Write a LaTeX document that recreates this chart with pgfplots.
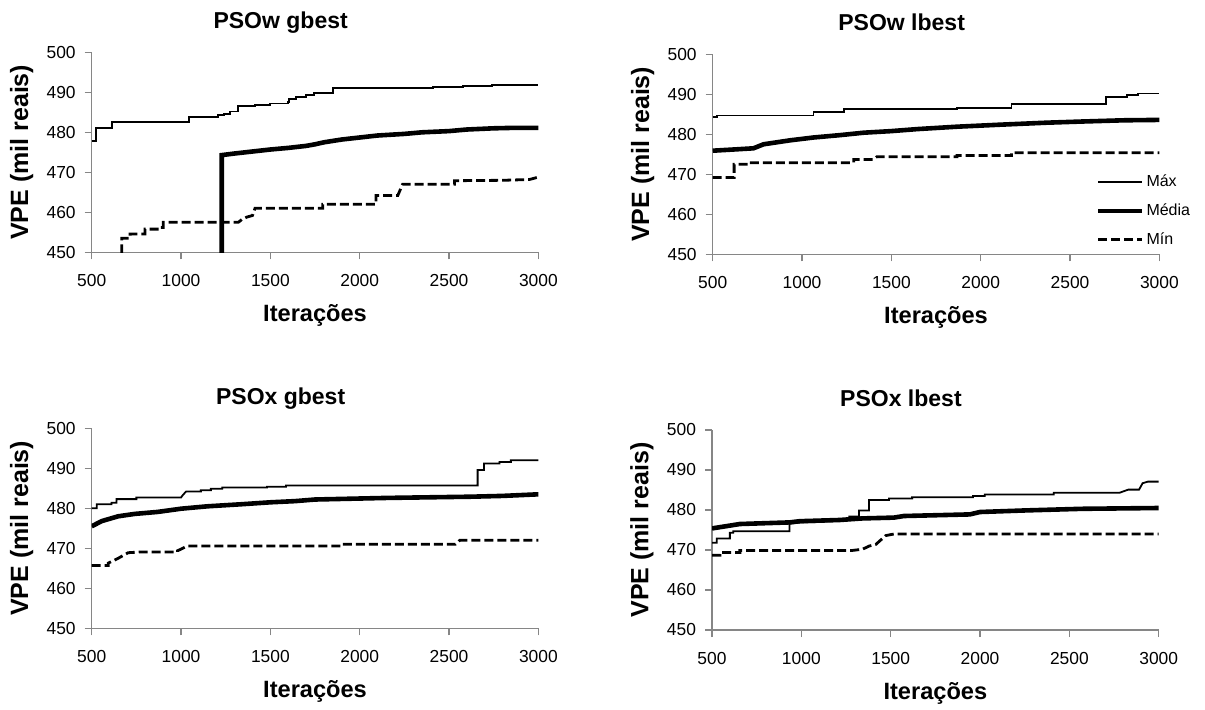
\documentclass[border=0pt]{standalone}
\usepackage{fontspec}
\setmainfont{Liberation Sans}
\usepackage{pgfplots}
\pgfplotsset{compat=1.18}
\definecolor{axisgray}{HTML}{868686}
\pgfplotsset{
  every axis title shift=0pt,
  panel/.style={
    scale only axis, width=223.35pt, height=100pt,
    xmin=500, xmax=3000, ymin=450, ymax=500,
    xtick={500,1000,...,3000}, ytick={450,460,...,500},
    scaled ticks=false,
    axis x line*=bottom, axis y line*=left,
    axis line style={draw=axisgray, line width=0.6pt, -},
    tick style={draw=axisgray, line width=0.6pt},
    tick align=outside, major tick length=3.5pt,
    ticklabel style={font=\fontsize{8.7}{10}\selectfont},
    /pgf/number format/assume math mode=true,
    /pgf/number format/1000 sep={},
    xticklabel style={yshift=-4pt},
    yticklabel style={xshift=-1pt},
    title style={at={(axis description cs:0.423,1.12)}, anchor=base, yshift=0pt, font=\bfseries\fontsize{11.5}{13}\selectfont},
    xlabel style={at={(axis description cs:0.5,-0.315)}, anchor=center, font=\bfseries\fontsize{11.8}{13}\selectfont},
    ylabel style={at={(axis description cs:-0.157,0.5)}, anchor=center, font=\bfseries\fontsize{12.5}{14}\selectfont},
    xlabel={Iterações}, ylabel={VPE (mil reais)},
    clip=true,
  },
  smax/.style={black, line width=0.9pt},
  smed/.style={black, line width=2.3pt},
  smin/.style={black, line width=1.4pt, dash pattern=on 4.5pt off 2pt},
}
\begin{document}
\begin{tikzpicture}
\useasboundingbox (0,0) rectangle (602.5pt,354.5pt);
% ---------------- PSOw gbest
\begin{axis}[panel, at={(45.85pt,228.35pt)}, anchor=south west, title={PSOw gbest}]
\addplot[smax] coordinates {(500,477.9)(522,477.9)(522,481)(612,481)(612,482.5)(1045,482.5)(1045,483.9)(1209,483.9)(1209,484.3)(1240,484.3)(1240,484.6)(1274,484.6)(1274,485.2)(1321,485.2)(1321,486.5)(1414,486.5)(1414,486.9)(1500,486.9)(1500,487.2)(1597,487.2)(1597,487.5)(1606,487.5)(1606,488.3)(1644,488.3)(1644,488.9)(1700,488.9)(1700,489.3)(1746,489.3)(1746,489.9)(1849,489.9)(1849,491)(2409,491)(2409,491.3)(2576,491.3)(2576,491.6)(2740,491.6)(2740,491.8)(3000,491.8)};
\addplot[smed] coordinates {(1228,440)(1228,474.3)(1300,474.7)(1400,475.2)(1500,475.7)(1600,476.1)(1700,476.6)(1750,477.0)(1800,477.5)(1900,478.2)(2000,478.7)(2100,479.2)(2250,479.6)(2350,480.0)(2500,480.3)(2600,480.7)(2750,481.0)(2850,481.1)(3000,481.1)};
\addplot[smin] coordinates {(668,440)(668,453.5)(715,453.5)(715,454.6)(798,454.6)(798,455.8)(882,455.8)(882,456.2)(901,456.2)(901,457.5)(1321,457.5)(1340,458.2)(1368,458.8)(1400,459.2)(1414,461)(1793,461)(1793,462)(2091,462)(2091,464.2)(2213,464.2)(2240,467)(2530,467)(2530,467.9)(2800,468)(2950,468.2)(3000,468.8)};
\end{axis}
% ---------------- PSOw lbest
\begin{axis}[panel, at={(356.35pt,227.35pt)}, anchor=south west, title={PSOw lbest},
  legend style={at={(axis description cs:0.857,0.41)}, anchor=north west, draw=none, fill=none, inner sep=0pt, row sep=5pt,
    nodes={font=\fontsize{8}{9}\selectfont, inner sep=1pt}},
  legend cell align=left,
  legend image code/.code={\draw[#1] (0pt,0pt) -- (22pt,0pt);}]
\addplot[smax] coordinates {(500,484.4)(522,484.4)(522,484.7)(1064,484.7)(1064,485.5)(1233,485.5)(1233,486.3)(1867,486.3)(1867,486.6)(2172,486.6)(2172,487.5)(2700,487.5)(2700,489.3)(2820,489.3)(2820,489.9)(2880,489.9)(2880,490.2)(3000,490.2)};
\addlegendentry{Máx}
\addplot[smed] coordinates {(500,475.9)(616,476.2)(728,476.5)(784,477.5)(934,478.5)(1064,479.2)(1214,479.8)(1345,480.4)(1500,480.8)(1644,481.3)(1867,481.9)(2107,482.4)(2367,482.9)(2570,483.2)(2800,483.5)(3000,483.6)};
\addlegendentry{Média}
\addplot[smin] coordinates {(500,469.2)(620,469.2)(620,472.5)(700,472.5)(700,472.9)(1289,472.9)(1289,473.7)(1400,473.7)(1419,474.4)(1867,474.4)(1867,474.7)(2172,474.7)(2172,475.4)(3000,475.4)};
\addlegendentry{Mín}
\end{axis}
% ---------------- PSOx gbest
\begin{axis}[panel, at={(45.85pt,40.35pt)}, anchor=south west, title={PSOx gbest}]
\addplot[smax] coordinates {(500,480)(528,480)(528,481)(611,481)(611,481.4)(639,481.4)(639,482.3)(750,482.3)(750,482.7)(1000,482.7)(1010,483.3)(1028,484.2)(1111,484.2)(1111,484.5)(1167,484.5)(1167,484.9)(1231,484.9)(1231,485.2)(1481,485.2)(1481,485.4)(1587,485.4)(1587,485.7)(2660,485.7)(2660,489.6)(2696,489.6)(2696,491.2)(2782,491.2)(2782,491.6)(2846,491.6)(2846,492)(3000,492)};
\addplot[smed] coordinates {(500,475.5)(556,476.8)(648,478)(741,478.6)(870,479.1)(1000,479.9)(1148,480.5)(1333,481)(1500,481.5)(1640,481.8)(1750,482.2)(2157,482.6)(2620,482.9)(2800,483.1)(3000,483.5)};
\addplot[smin] coordinates {(500,465.7)(593,465.7)(593,466.3)(648,467.5)(704,468.9)(778,469.1)(981,469.1)(981,469.4)(1037,470.6)(1895,470.6)(1895,471)(2535,471)(2560,472)(3000,472)};
\end{axis}
% ---------------- PSOx lbest
\begin{axis}[panel, at={(356pt,39.5pt)}, anchor=south west, title={PSOx lbest}]
\addplot[smax] coordinates {(500,471.8)(526,471.8)(526,472.9)(600,472.9)(600,474.3)(619,474.3)(619,474.7)(934,474.7)(934,476.6)(1000,476.9)(1100,477)(1268,477.6)(1268,478.4)(1323,478.4)(1323,479.9)(1379,479.9)(1379,482.5)(1491,482.5)(1491,482.9)(1620,482.9)(1620,483.2)(1961,483.2)(1961,483.5)(2026,483.5)(2026,483.9)(2413,483.9)(2413,484.3)(2780,484.3)(2830,485.1)(2890,485.1)(2910,486.7)(2940,487.1)(3000,487.1)};
\addplot[smed] coordinates {(500,475.4)(600,476.1)(656,476.5)(934,476.9)(990,477.2)(1213,477.5)(1343,477.9)(1518,478.1)(1574,478.5)(1943,478.9)(2000,479.5)(2258,479.9)(2572,480.3)(3000,480.5)};
\addplot[smin] coordinates {(500,468.7)(545,468.7)(545,469.4)(656,469.4)(656,469.9)(1287,469.9)(1343,470.2)(1380,471)(1417,471.4)(1472,473.6)(1518,474)(3000,474)};
\end{axis}
\end{tikzpicture}
\end{document}
